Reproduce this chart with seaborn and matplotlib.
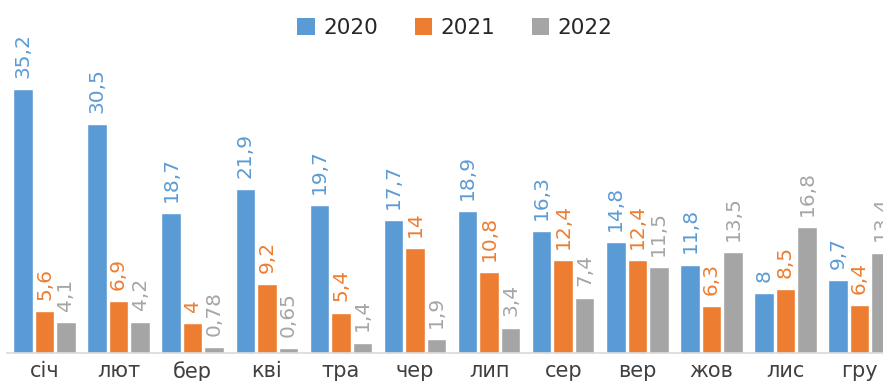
import matplotlib
matplotlib.use("Agg")
import matplotlib.pyplot as plt
from matplotlib.patches import Patch
import pandas as pd
import seaborn as sns

months = ["січ", "лют", "бер", "кві", "тра", "чер", "лип", "сер", "вер", "жов", "лис", "гру"]
years = ["2020", "2021", "2022"]
v2020 = [35.2, 30.5, 18.7, 21.9, 19.7, 17.7, 18.9, 16.3, 14.8, 11.8, 8, 9.7]
v2021 = [5.6, 6.9, 4, 9.2, 5.4, 14, 10.8, 12.4, 12.4, 6.3, 8.5, 6.4]
v2022 = [4.1, 4.2, 0.78, 0.65, 1.4, 1.9, 3.4, 7.4, 11.5, 13.5, 16.8, 13.4]
colors = ["#5B9BD5", "#ED7D31", "#A5A5A5"]

df = pd.DataFrame({
    "month": months * 3,
    "year": [y for y in years for _ in months],
    "value": v2020 + v2021 + v2022,
})

sns.set_theme(style="white")
plt.rcParams["font.family"] = ["DejaVu Sans"]

W, H = 883, 381
fig = plt.figure(figsize=(W / 100, H / 100), dpi=100)
ax = fig.add_axes([7 / W, 28 / H, 1 - 7 / W, 353 / H])

sns.barplot(data=df, x="month", y="value", hue="year", hue_order=years,
            palette=colors, saturation=1, width=0.87, gap=0.09,
            legend=False, ax=ax)

px_per_unit = 74.1
ax.set_xlim(-(44.5 - 7) / px_per_unit, (W - 44.5) / px_per_unit)
ax.set_ylim(0, 353 / 7.5)

def fmt(v):
    return f"{v:g}".replace(".", ",")

for cont, col in zip(ax.containers, colors):
    vals = [b.get_height() for b in cont]
    ax.bar_label(cont, labels=[fmt(v) for v in vals], rotation=90,
                 padding=8, color=col, fontsize=14.5)

ax.set_xlabel("")
ax.set_ylabel("")
ax.set_yticks([])
for s in ["top", "left", "right"]:
    ax.spines[s].set_visible(False)
ax.spines["bottom"].set_color("#D9D9D9")
ax.spines["bottom"].set_linewidth(1.2)
ax.tick_params(axis="x", length=0, pad=6, labelsize=15, labelcolor="#404040")

handles = [Patch(facecolor=c, edgecolor="none") for c in colors]
fig.legend(handles, years, loc="center", bbox_to_anchor=(455 / W, 1 - 28 / H),
           ncol=3, frameon=False, fontsize=15.5, handlelength=0.8,
           handleheight=0.8, handletextpad=0.4, columnspacing=1.7,
           labelcolor="#262626")

fig.savefig("out.png", dpi=100)
